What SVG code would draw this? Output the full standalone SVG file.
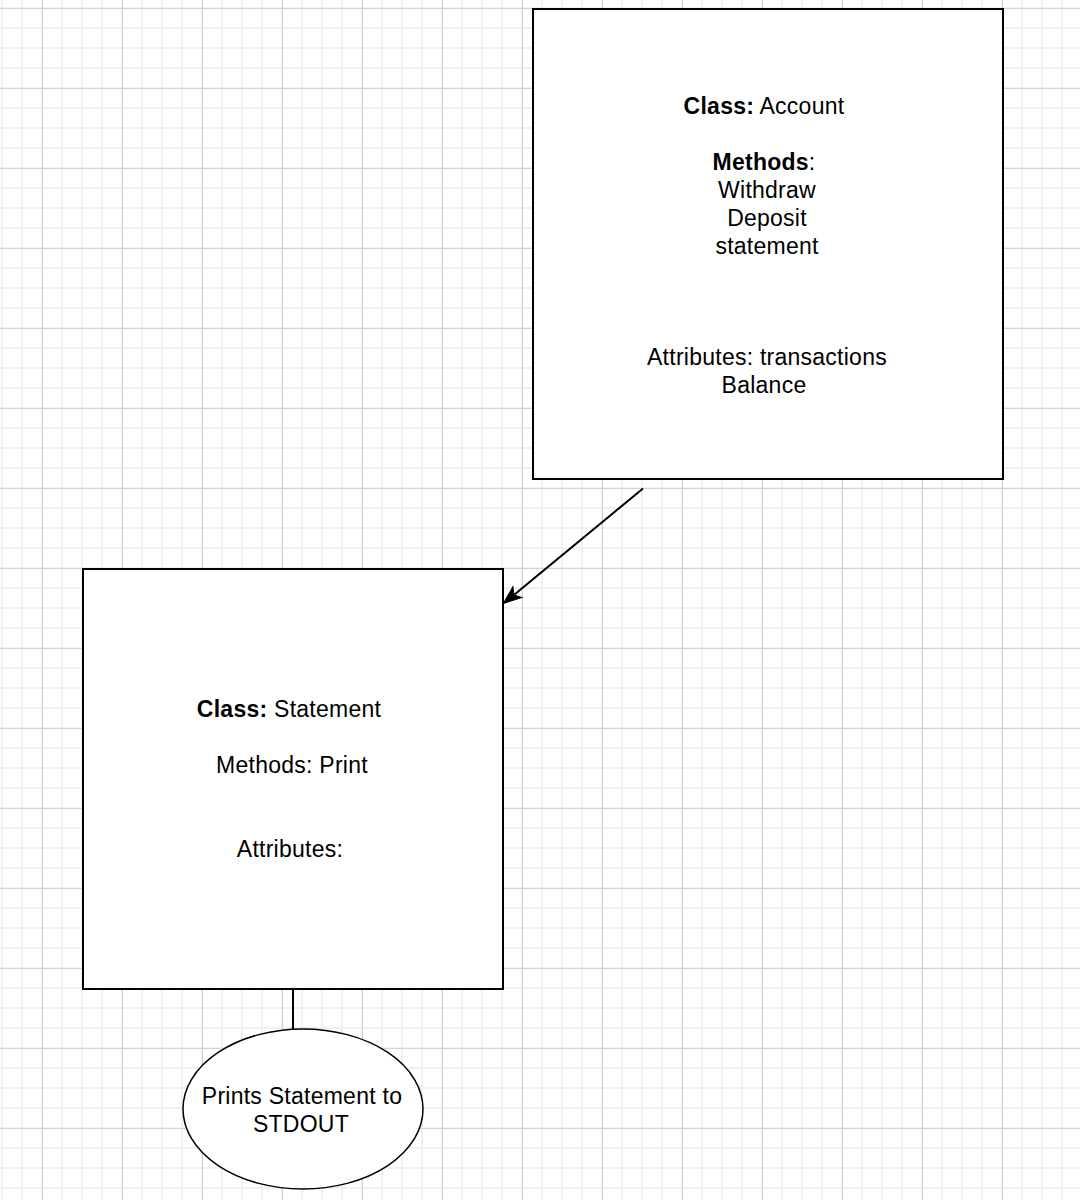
<svg xmlns="http://www.w3.org/2000/svg" width="1080" height="1200" viewBox="0 0 1080 1200">
<style>
text{font-family:"Liberation Sans",Arial,Helvetica,sans-serif;font-size:23px;fill:#000;text-anchor:middle;letter-spacing:0.25px}
.b{font-weight:bold}
.box{fill:#fff;stroke:#000;stroke-width:2}
.edge{fill:none;stroke:#000;stroke-width:2}
</style>
<defs>
<pattern id="minor" x="1" y="7" width="20" height="20" patternUnits="userSpaceOnUse">
<rect x="0" y="0" width="2" height="20" fill="#f0f0f0"/>
<rect x="0" y="0" width="20" height="2" fill="#f0f0f0"/>
</pattern>
<pattern id="major" x="42" y="8" width="80" height="80" patternUnits="userSpaceOnUse">
<rect x="0" y="0" width="1" height="80" fill="#d2d2d2"/>
<rect x="0" y="0" width="80" height="1" fill="#d2d2d2"/>
</pattern>
<marker id="arrow" viewBox="-20 -10 22 20" markerWidth="22" markerHeight="20" refX="-13.5" refY="0" orient="auto" markerUnits="userSpaceOnUse">
<path d="M0,0 L-18,-7 L-13.5,0 L-18,7 Z" fill="#000" stroke="#000" stroke-width="1"/>
</marker>
</defs>
<rect width="1080" height="1200" fill="#fff"/>
<rect width="1080" height="1200" fill="url(#minor)"/>
<rect width="1080" height="1200" fill="url(#major)"/>
<g id="connectors">
<line class="edge" x1="643" y1="488.5" x2="513.9" y2="594.9" marker-end="url(#arrow)"/>
<line class="edge" x1="293" y1="989" x2="293" y2="1029"/>
</g>
<g id="account">
<rect class="box" x="533" y="9" width="470" height="470"/>
<text x="764" y="114"><tspan class="b">Class:</tspan> Account</text>
<text x="764" y="170"><tspan class="b">Methods</tspan>:</text>
<text x="767" y="198">Withdraw</text>
<text x="767" y="226">Deposit</text>
<text x="767" y="254">statement</text>
<text x="767" y="365">Attributes: transactions</text>
<text x="764" y="393">Balance</text>
</g>
<g id="statement">
<rect class="box" x="83" y="569" width="420" height="420"/>
<text x="289" y="717"><tspan class="b">Class:</tspan> Statement</text>
<text x="292" y="773">Methods: Print</text>
<text x="290" y="857">Attributes:</text>
</g>
<g id="stdout">
<ellipse cx="303" cy="1109" rx="120" ry="80" fill="#fff" stroke="#000" stroke-width="1.5"/>
<text x="302" y="1104">Prints Statement to</text>
<text x="301" y="1132">STDOUT</text>
</g>
</svg>
